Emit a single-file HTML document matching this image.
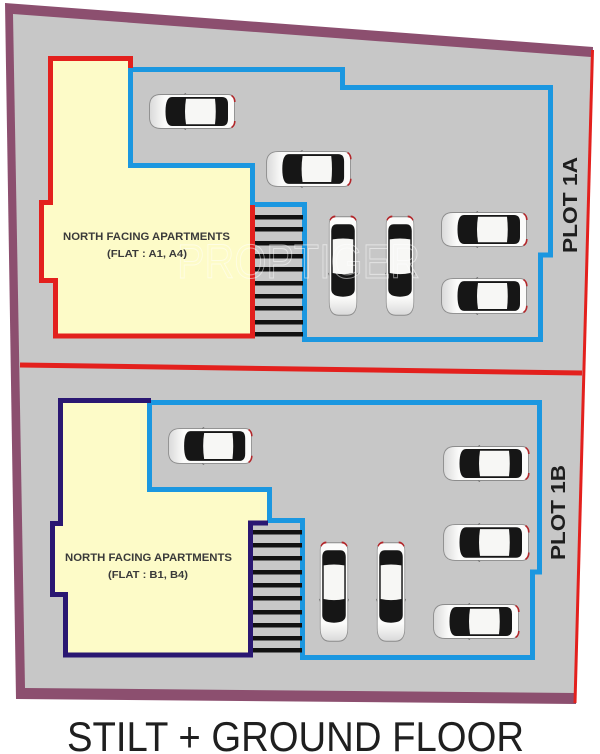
<!DOCTYPE html>
<html><head><meta charset="utf-8">
<style>
html,body{margin:0;padding:0;background:#fff;}
svg{display:block;}
</style></head>
<body>
<svg width="600" height="754" viewBox="0 0 600 754" xmlns="http://www.w3.org/2000/svg">
<defs>
<linearGradient id="fg" x1="0" y1="0" x2="1" y2="0">
<stop offset="0" stop-color="#d9d9d9"/><stop offset="0.18" stop-color="#fbfbfa"/><stop offset="1" stop-color="#fbfbfa"/>
</linearGradient>
<symbol id="car" viewBox="0 0 88 37" preserveAspectRatio="none">
 <path d="M13,1.5 L80,1.5 Q86.5,1.5 86.5,9 L86.5,28 Q86.5,35.5 80,35.5 L13,35.5 Q1.5,35.5 1.5,24 L1.5,13 Q1.5,1.5 13,1.5 Z" fill="url(#fg)" stroke="#8c8c8c" stroke-width="0.9"/>
 <path d="M24,4 L74,4 Q80,4 80,11 L80,26 Q80,33 74,33 L24,33 Q17.5,33 17.5,18.5 Q17.5,4 24,4 Z" fill="#161616"/>
 <path d="M38,5.8 L67,5.8 Q68.5,18.5 67,31.2 L38,31.2 Q36,18.5 38,5.8 Z" fill="#f7f7f5"/>
 <path d="M83.5,2.5 Q86.8,4.5 86.8,9" fill="none" stroke="#b3262a" stroke-width="1.6"/>
 <path d="M83.5,34.5 Q86.8,32.5 86.8,28" fill="none" stroke="#b3262a" stroke-width="1.6"/>
 <path d="M36,1.5 L38,0.3 M36,35.5 L38,36.7" stroke="#777" stroke-width="1"/>
</symbol>
</defs>

<!-- site outline -->
<polygon points="5,3 593,47 576,704 16,699" fill="#8c4f6f"/>
<polygon points="13,14 591,57 575,693 25,688" fill="#c7c7c7"/>
<line x1="592.5" y1="50" x2="575" y2="703" stroke="#e3201d" stroke-width="3"/>
<line x1="20" y1="365" x2="582" y2="373" stroke="#e3201d" stroke-width="5"/>

<!-- PLOT 1A building -->
<polygon points="50,58 130,58 130,165 252,165 252,336 55,336 55,281 41,281 41,202 50,202" fill="#fdfbc8"/>
<path d="M130.5,69.5 H342.5 V87.5 H550.5 V255 H540.5 V339.5 H304.5 V204.5 H252.5 V165.5 H130.5 Z" fill="none" stroke="#1b97e0" stroke-width="5"/>
<path d="M130.5,68 V58.5 H50.5 V202.5 H41.5 V280.5 H55.5 V336 H252.5 V205" fill="none" stroke="#e3201d" stroke-width="5" stroke-linejoin="miter"/>
<g fill="#111">
<rect x="255" y="215" width="48" height="4.5"/>
<rect x="255" y="227" width="48" height="4.5"/>
<rect x="255" y="241" width="48" height="4.5"/>
<rect x="255" y="254" width="48" height="4.5"/>
<rect x="255" y="267" width="48" height="4.5"/>
<rect x="255" y="281" width="48" height="4.5"/>
<rect x="255" y="294" width="48" height="4.5"/>
<rect x="255" y="306" width="48" height="4.5"/>
<rect x="255" y="320" width="48" height="4.5"/>
<rect x="255" y="332" width="48" height="4.5"/>
</g>

<!-- PLOT 1B building -->
<polygon points="60,400 149,400 149,489 269,489 269,521 252,521 252,655 65,655 65,594 52,594 52,523 60,523" fill="#fdfbc8"/>
<path d="M149.5,402.5 H539.5 V572 H532.5 V657.5 H302.5 V520.5 H269.5 V489.5 H149.5 Z" fill="none" stroke="#1b97e0" stroke-width="5"/>
<path d="M151,400.5 H60.5 V523.5 H52.5 V594.5 H65.5 V655 H250.5 V523 H268" fill="none" stroke="#2a1772" stroke-width="5"/>
<g fill="#111">
<rect x="253" y="530" width="49" height="4.5"/>
<rect x="253" y="543" width="49" height="4.5"/>
<rect x="253" y="556" width="49" height="4.5"/>
<rect x="253" y="570" width="49" height="4.5"/>
<rect x="253" y="583" width="49" height="4.5"/>
<rect x="253" y="596" width="49" height="4.5"/>
<rect x="253" y="610" width="49" height="4.5"/>
<rect x="253" y="623" width="49" height="4.5"/>
<rect x="253" y="636" width="49" height="4.5"/>
<rect x="253" y="648" width="49" height="4.5"/>
</g>

<!-- cars plot 1A -->
<use href="#car" x="148" y="93" width="88" height="37"/>
<use href="#car" x="265" y="150" width="87" height="38"/>
<use href="#car" transform="translate(343,266) rotate(-90)" x="-51" y="-15" width="102" height="30"/>
<use href="#car" transform="translate(400,266) rotate(-90)" x="-51" y="-15" width="102" height="30"/>
<use href="#car" x="440" y="211" width="88" height="37"/>
<use href="#car" x="440" y="277" width="88" height="38"/>

<!-- cars plot 1B -->
<use href="#car" x="167" y="427" width="86" height="38"/>
<use href="#car" x="442" y="445" width="88" height="37"/>
<use href="#car" x="442" y="523" width="88" height="39"/>
<use href="#car" x="432" y="603" width="88" height="37"/>
<use href="#car" transform="translate(334,592) rotate(-90)" x="-51" y="-15" width="102" height="30"/>
<use href="#car" transform="translate(391,592) rotate(-90)" x="-51" y="-15" width="102" height="30"/>

<!-- watermark -->
<text x="177" y="278" font-family="Liberation Sans, sans-serif" font-size="48" fill="none" stroke="#ffffff" stroke-opacity="0.5" stroke-width="1" textLength="243" lengthAdjust="spacingAndGlyphs">PROPTIGER</text>

<!-- labels -->
<g font-family="Liberation Sans, sans-serif" font-weight="bold" fill="#3a3a3a">
<text x="63" y="240" font-size="11" textLength="167" lengthAdjust="spacingAndGlyphs">NORTH FACING APARTMENTS</text>
<text x="107" y="257" font-size="10.5" textLength="80" lengthAdjust="spacingAndGlyphs">(FLAT : A1,  A4)</text>
<text x="65" y="561" font-size="11" textLength="167" lengthAdjust="spacingAndGlyphs">NORTH FACING APARTMENTS</text>
<text x="108" y="578" font-size="10.5" textLength="80" lengthAdjust="spacingAndGlyphs">(FLAT : B1,  B4)</text>
</g>
<g font-family="Liberation Sans, sans-serif" font-weight="bold" fill="#1e1e1e" font-size="20">
<text transform="translate(577,253) rotate(-90)" x="0" y="0" textLength="96" lengthAdjust="spacingAndGlyphs">PLOT 1A</text>
<text transform="translate(565,560) rotate(-90)" x="0" y="0" textLength="95" lengthAdjust="spacingAndGlyphs">PLOT 1B</text>
</g>

<text x="67" y="751" font-family="Liberation Sans, sans-serif" font-size="42" fill="#1f1f1f" textLength="457" lengthAdjust="spacingAndGlyphs">STILT + GROUND FLOOR</text>
</svg>
</body></html>
